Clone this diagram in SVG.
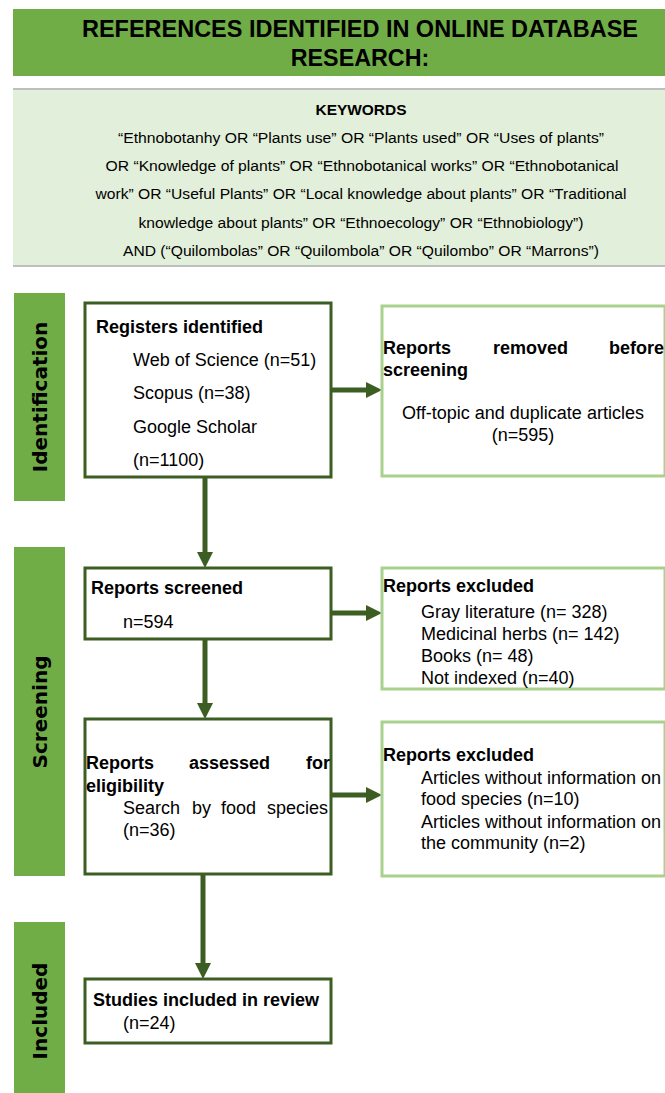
<svg xmlns="http://www.w3.org/2000/svg" width="665" height="1093" viewBox="0 0 665 1093">
<style>
.t{font-family:"Liberation Sans",Arial,sans-serif;fill:#000}
.b{font-weight:bold}
.s18{font-size:18px}
.kw{font-size:15.5px}
.phase{font-family:"DejaVu Sans",Verdana,sans-serif;font-weight:bold;font-size:20px;fill:#000}
.bar{fill:#70ad47}
.main{fill:#fff;stroke:#3d5e22;stroke-width:3}
.side{fill:#fff;stroke:#a9d18e;stroke-width:3}
.conn{stroke:#3d5e22;stroke-width:5;fill:none}
</style>
<defs>
<marker id="ah" markerUnits="userSpaceOnUse" markerWidth="16" markerHeight="16" refX="0" refY="8" orient="auto">
<path d="M0,0 L16,8 L0,16 z" fill="#3d5e22"/>
</marker>
</defs>

<g id="header">
<rect x="13" y="9" width="652" height="67" fill="#70ad47"/>
<text class="t b" x="360" y="37" font-size="23.3" text-anchor="middle" textLength="556" lengthAdjust="spacingAndGlyphs">REFERENCES IDENTIFIED IN ONLINE DATABASE</text>
<text class="t b" x="360" y="66" font-size="23.3" text-anchor="middle">RESEARCH:</text>
</g>

<g id="keywords">
<rect x="13" y="89" width="652" height="177" fill="#e2efda"/>
<line x1="13" y1="89" x2="665" y2="89" stroke="#bfbfbf" stroke-width="2"/>
<line x1="13" y1="266" x2="665" y2="266" stroke="#bfbfbf" stroke-width="2"/>
<text class="t b kw" x="361" y="115" text-anchor="middle" textLength="91" lengthAdjust="spacingAndGlyphs">KEYWORDS</text>
<text class="t kw" x="361" y="143" text-anchor="middle" textLength="486" lengthAdjust="spacingAndGlyphs">“Ethnobotanhy OR “Plants use” OR “Plants used” OR “Uses of plants”</text>
<text class="t kw" x="362" y="171" text-anchor="middle" textLength="513" lengthAdjust="spacingAndGlyphs">OR “Knowledge of plants” OR “Ethnobotanical works” OR “Ethnobotanical</text>
<text class="t kw" x="361" y="199" text-anchor="middle" textLength="531" lengthAdjust="spacingAndGlyphs">work” OR “Useful Plants” OR “Local knowledge about plants” OR “Traditional</text>
<text class="t kw" x="361" y="228" text-anchor="middle" textLength="445" lengthAdjust="spacingAndGlyphs">knowledge about plants” OR “Ethnoecology” OR “Ethnobiology”)</text>
<text class="t kw" x="361" y="256" text-anchor="middle" textLength="476" lengthAdjust="spacingAndGlyphs">AND (“Quilombolas” OR “Quilombola” OR “Quilombo” OR “Marrons”)</text>
</g>

<g id="phase-identification">
<rect class="bar" x="14" y="293" width="51" height="208"/>
<text class="phase" transform="translate(47,397) rotate(-90)" text-anchor="middle">Identification</text>
</g>
<g id="phase-screening">
<rect class="bar" x="14" y="547" width="51" height="329"/>
<text class="phase" transform="translate(47,712) rotate(-90)" text-anchor="middle">Screening</text>
</g>
<g id="phase-included">
<rect class="bar" x="14" y="922" width="51" height="171"/>
<text class="phase" transform="translate(47,1011) rotate(-90)" text-anchor="middle">Included</text>
</g>

<g id="connectors">
<line class="conn" x1="331" y1="390" x2="366" y2="390" marker-end="url(#ah)"/>
<line class="conn" x1="205" y1="477" x2="205" y2="552" marker-end="url(#ah)"/>
<line class="conn" x1="331" y1="613" x2="366" y2="613" marker-end="url(#ah)"/>
<line class="conn" x1="205" y1="639" x2="205" y2="703" marker-end="url(#ah)"/>
<line class="conn" x1="331" y1="795" x2="366" y2="795" marker-end="url(#ah)"/>
<line class="conn" x1="203" y1="875" x2="203" y2="963" marker-end="url(#ah)"/>
</g>

<g id="registers-identified">
<rect class="main" x="85" y="303" width="246" height="174"/>
<text class="t b s18" x="96" y="333">Registers identified</text>
<text class="t s18" x="133" y="366">Web of Science (n=51)</text>
<text class="t s18" x="133" y="399">Scopus (n=38)</text>
<text class="t s18" x="133" y="433">Google Scholar</text>
<text class="t s18" x="133" y="466">(n=1100)</text>
</g>

<g id="reports-removed">
<rect class="side" x="382" y="306" width="283" height="170"/>
<text class="t b s18" y="354"><tspan x="383">Reports</tspan><tspan x="493">removed</tspan><tspan x="609">before</tspan></text>
<text class="t b s18" x="383" y="376">screening</text>
<text class="t s18" x="523" y="419" text-anchor="middle">Off-topic and duplicate articles</text>
<text class="t s18" x="523" y="441" text-anchor="middle">(n=595)</text>
</g>

<g id="reports-screened">
<rect class="main" x="85" y="568" width="246" height="71"/>
<text class="t b s18" x="91" y="594">Reports screened</text>
<text class="t s18" x="123" y="628">n=594</text>
</g>

<g id="reports-excluded-1">
<rect class="side" x="382" y="568" width="283" height="121"/>
<text class="t b s18" x="383" y="592">Reports excluded</text>
<text class="t s18" x="421" y="618">Gray literature (n= 328)</text>
<text class="t s18" x="421" y="640">Medicinal herbs (n= 142)</text>
<text class="t s18" x="421" y="662">Books (n= 48)</text>
<text class="t s18" x="421" y="684">Not indexed (n=40)</text>
</g>

<g id="reports-assessed">
<rect class="main" x="85" y="719" width="246" height="155"/>
<text class="t b s18" y="769"><tspan x="86">Reports</tspan><tspan x="189">assessed</tspan><tspan x="306">for</tspan></text>
<text class="t b s18" x="86" y="792">eligibility</text>
<text class="t s18" y="814"><tspan x="123">Search</tspan><tspan x="192">by</tspan><tspan x="221">food</tspan><tspan x="267">species</tspan></text>
<text class="t s18" x="123" y="836">(n=36)</text>
</g>

<g id="reports-excluded-2">
<rect class="side" x="382" y="722" width="283" height="154"/>
<text class="t b s18" x="383" y="761">Reports excluded</text>
<text class="t s18" x="421" y="784">Articles without information on</text>
<text class="t s18" x="421" y="805">food species (n=10)</text>
<text class="t s18" x="421" y="828">Articles without information on</text>
<text class="t s18" x="421" y="849">the community (n=2)</text>
</g>

<g id="studies-included">
<rect class="main" x="85" y="979" width="246" height="64"/>
<text class="t b s18" x="93" y="1006">Studies included in review</text>
<text class="t s18" x="123" y="1029">(n=24)</text>
</g>
</svg>
